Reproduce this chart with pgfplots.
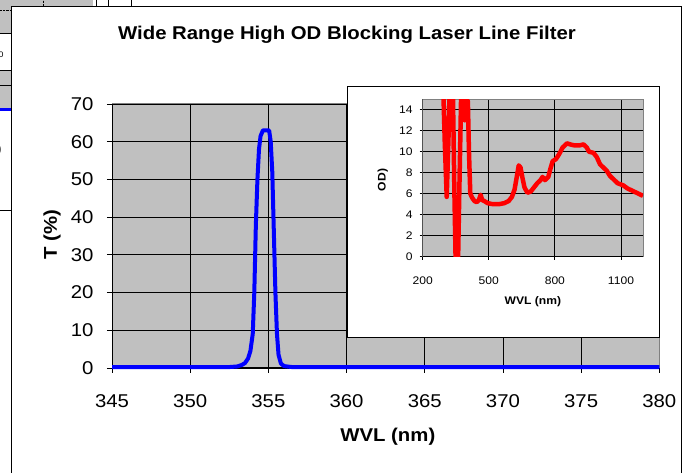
\documentclass[border=0pt]{standalone}
\usepackage{fontspec}
\setmainfont{Liberation Sans}[FakeStretch=1.1]
\usepackage{pgfplots}
\pgfplotsset{compat=1.18}
\definecolor{xlgray}{HTML}{C0C0C0}
\definecolor{xdgray}{HTML}{808080}

\begin{document}
\begin{tikzpicture}
\useasboundingbox (0pt,0pt) rectangle (688pt,473pt);
% spreadsheet cells behind the chart
\fill[xlgray] (0pt,440pt) rectangle (11pt,473pt);
\fill[xlgray] (0pt,466pt) rectangle (93pt,473pt);
\fill[xlgray] (0pt,363pt) rectangle (11pt,403pt);
\draw[black, densely dotted] (0pt,463pt) -- (11pt,463pt);
\draw[black, densely dotted] (43pt,466pt) -- (43pt,473pt);
\draw[black] (0pt,440pt) -- (11pt,440pt) (0pt,403pt) -- (11pt,403pt) (0pt,388pt) -- (11pt,388pt) (0pt,263pt) -- (11pt,263pt);
\draw[black] (96pt,466pt) -- (96pt,473pt) (108pt,466pt) -- (108pt,473pt) (131pt,466pt) -- (131pt,473pt);
\draw[blue, line width=3pt] (0pt,363pt) -- (11pt,363pt);
\begin{scope}
\clip (0pt,0pt) rectangle (11pt,473pt);
\node[font=\fontsize{8}{9}\selectfont, anchor=east] at (7pt,418pt) {0};
\node[font=\fontsize{16}{18}\selectfont, anchor=east] at (5pt,323pt) {0};
\end{scope}
% chart area
\fill[white] (11pt,-2pt) rectangle (681pt,466pt);
\draw[black, line width=1pt] (11pt,-2pt) -- (11pt,466pt) -- (681pt,466pt) -- (681pt,-2pt);
\node[font=\bfseries\fontsize{18.5}{21}\selectfont] at (347pt,438pt) {Wide Range High OD Blocking Laser Line Filter};

\begin{axis}[
  at={(112pt,105pt)}, anchor=south west, scale only axis,
  width=547.3pt, height=264pt,
  xmin=345, xmax=380, ymin=0, ymax=70,
  xtick={345,350,...,380}, ytick={0,10,...,70},
  axis background/.style={fill=xlgray},
  grid=major, major grid style={black, line width=0.8pt},
  axis line style={xdgray, line width=1pt},
  tick align=outside, xtick pos=bottom, ytick pos=left,
  major tick length=5pt, tick style={black, line width=0.8pt},
  ticklabel style={font=\fontsize{18.5}{21}\selectfont},
  /pgf/number format/assume math mode=true,
  /pgf/number format/1000 sep={},
  xticklabel style={anchor=center, yshift=-28pt},
  yticklabel style={anchor=east, xshift=-10pt},
  xlabel={WVL (nm)}, ylabel={T (\%)},
  xlabel style={at={(axis description cs:0.504,0)}, anchor=center, yshift=-69pt, font=\bfseries\fontsize{18.5}{21}\selectfont},
  ylabel style={at={(axis description cs:0,0.504)}, anchor=center, yshift=60pt, font=\bfseries\fontsize{18.5}{21}\selectfont},
  clip=false,
]
\draw[black, line width=1pt] (rel axis cs:0,1) -- (rel axis cs:0,0) -- (rel axis cs:1,0);
\addplot[blue, line width=4pt, line join=round] coordinates {
(345,0.2) (350,0.2) (352.5,0.25) (353,0.4) (353.3,0.8) (353.5,1.3) (353.7,2.5)
(353.85,4.5) (354.0,9) (354.1,20) (354.2,38) (354.3,50) (354.4,58) (354.5,61.5)
(354.65,63) (355.05,63) (355.15,60) (355.25,52) (355.35,36) (355.45,20)
(355.55,9) (355.65,3.5) (355.8,1.2) (356,0.5) (356.5,0.25) (360,0.2) (380,0.2)
};
\end{axis}

% inset
\filldraw[fill=white, draw=black, line width=1pt] (347pt,135pt) rectangle (659pt,386pt);
\begin{axis}[
  at={(422.7pt,216.3pt)}, anchor=south west, scale only axis,
  width=220.3pt, height=157.4pt,
  xmin=200, xmax=1200, ymin=0, ymax=15,
  xtick={200,500,800,1100}, ytick={0,2,...,14},
  axis background/.style={fill=xlgray},
  grid=major, major grid style={black, line width=0.8pt},
  axis line style={xdgray, line width=1pt},
  tick align=outside, xtick pos=bottom, ytick pos=left,
  major tick length=3pt, tick style={black, line width=0.8pt},
  ticklabel style={font=\fontsize{11}{13}\selectfont},
  /pgf/number format/assume math mode=true,
  /pgf/number format/1000 sep={},
  xticklabel style={anchor=center, yshift=-21pt},
  yticklabel style={anchor=east, xshift=-3.5pt},
  xlabel={WVL (nm)}, ylabel={OD)},
  xlabel style={at={(axis description cs:0.5,0)}, anchor=center, yshift=-45pt, font=\bfseries\fontsize{11}{13}\selectfont},
  ylabel style={at={(axis description cs:0,0.487)}, anchor=center, yshift=40pt, font=\bfseries\fontsize{11}{13}\selectfont},
]
\draw[black, line width=1pt] (rel axis cs:0,1) -- (rel axis cs:0,0) -- (rel axis cs:1,0);
\addplot[red, line width=4.5pt, line join=round] coordinates {
(288,20) (300,11) (309,5.7) (318,12) (326,20) (334,20) (344,6) (350,-1) (360,-1)
(366,6) (375,16) (383,14.5) (391,13) (399,15) (405,14.8) (410,10) (416,6)
(425,5.6) (435,5.3) (445,5.2) (455,5.4) (463,5.9) (470,5.4) (480,5.3) (495,5.1)
(520,5.0) (545,5.0) (570,5.1) (590,5.3) (605,5.7) (617,6.4) (627,7.6) (636,8.7)
(644,8.5) (652,7.6) (662,6.6) (675,6.1) (690,6.2) (705,6.6) (720,7.0) (735,7.3)
(744,7.6) (755,7.3) (770,7.6) (780,8.4) (790,9.1) (805,9.3) (820,9.8) (835,10.4)
(855,10.8) (870,10.7) (890,10.6) (910,10.6) (930,10.7) (945,10.4) (955,10.0)
(975,9.9) (990,9.5) (1005,8.8) (1020,8.5) (1035,8.2) (1050,7.7) (1070,7.3)
(1085,7.0) (1110,6.8) (1130,6.5) (1160,6.2) (1200,5.8)
};
\end{axis}
\end{tikzpicture}
\end{document}
